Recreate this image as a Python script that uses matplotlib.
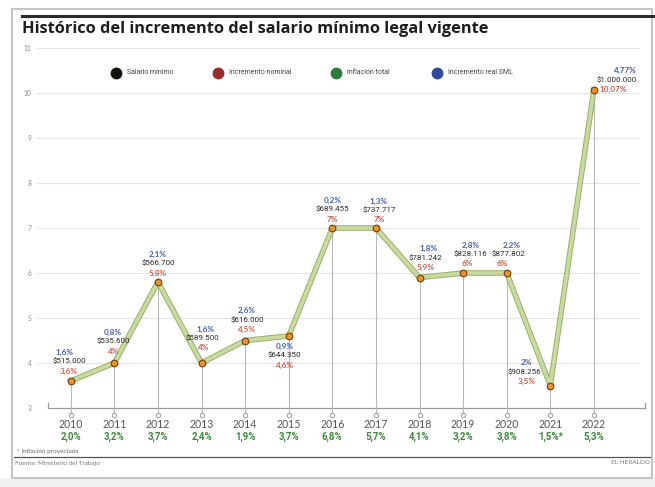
import matplotlib
matplotlib.use("Agg")
import matplotlib.pyplot as plt
from matplotlib import font_manager
from matplotlib.lines import Line2D
from matplotlib.patches import Rectangle

# ---------------- data ----------------
years = ["2010", "2011", "2012", "2013", "2014", "2015", "2016",
         "2017", "2018", "2019", "2020", "2021", "2022"]
nominal = [3.6, 4, 5.8, 4, 4.5, 4.6, 7, 7, 5.9, 6, 6, 3.5, 10.07]
nominal_labels = ["3,6%", "4%", "5,8%", "4%", "4,5%", "4,6%", "7%", "7%",
                  "5,9%", "6%", "6%", "3,5%", "10,07%"]
salary_labels = ["$515.000", "$535.600", "$566.700", "$589.500", "$616.000",
                 "$644.350", "$689.455", "$737.717", "$781.242", "$828.116",
                 "$877.802", "$908.256", "$1.000.000"]
real_labels = ["1,6%", "0,8%", "2,1%", "1,6%", "2,6%", "0,9%", "0,2%", "1,3%",
               "1,8%", "2,8%", "2,2%", "2%", "4,77%"]
inflation_labels = ["2,0%", "3,2%", "3,7%", "2,4%", "1,9%", "3,7%", "6,8%",
                    "5,7%", "4,1%", "3,2%", "3,8%", "1,5%*", "5,3%"]
yticks = [3, 4, 5, 6, 7, 8, 9, 10, 11]
legend_names = ["Salario mínimo", "Incremento nominal", "Inflación total",
                "Incremento real SML"]

# ---------------- styles ----------------
names = {f.name for f in font_manager.fontManager.ttflist}
NARROW = [n for n in ["Liberation Sans Narrow", "DejaVu Sans Condensed", "Roboto", "DejaVu Sans"] if n in names][:1] + ["DejaVu Sans"]
GEO = ["Lato", "DejaVu Sans"]
TITLE = ["Open Sans", "DejaVu Sans"]

C_BLUE_TXT = "#4a5fae"
C_RED_TXT = "#c4604f"
C_BLACK_TXT = "#2a2a2a"
C_GREEN_TXT = "#3e8b3e"
legend_colors = ["#141410", "#9a2a2a", "#2f7a40", "#2f4c9c"]

W, H = 655, 487
fig = plt.figure(figsize=(W / 100, H / 100), dpi=100)
fig.patch.set_facecolor("white")


def fx(px):
    return px / W


def fy(py):
    return 1 - py / H


# frame
fig.add_artist(Rectangle((0, 0), 1, fy(478), transform=fig.transFigure,
                         facecolor="#f1f1f1", edgecolor="none", zorder=0))
fig.add_artist(Rectangle((fx(12), fy(478)), fx(652) - fx(12), fy(9) - fy(478),
                         transform=fig.transFigure, facecolor="white",
                         edgecolor="#c4c4c4", linewidth=1.5, zorder=0))
fig.add_artist(Line2D([fx(22), 1], [fy(16), fy(16)], transform=fig.transFigure,
                      color="#2a2a2a", linewidth=2.2))
fig.add_artist(Line2D([fx(14), fx(650)], [fy(457), fy(457)], transform=fig.transFigure,
                      color="#555555", linewidth=0.9))

fig.text(fx(22), fy(29), "Histórico del incremento del salario mínimo legal vigente",
         fontsize=11.8, fontweight="bold", color="#1e1e1e", family=TITLE,
         ha="left", va="center")
fig.text(fx(17), fy(451), "* Inflación proyectada", fontsize=4.6, color="#666666",
         family=GEO, ha="left", va="center")
fig.text(fx(15), fy(464), "Fuente: Ministerio del Trabajo", fontsize=4.6, color="#777777",
         family=GEO, ha="left", va="center")
fig.text(fx(650), fy(463), "EL HERALDO", fontsize=4.6, color="#777777",
         family=GEO, ha="right", va="center")

# legend
leg_x = [116, 218, 336, 437]
for x, name, c in zip(leg_x, legend_names, legend_colors):
    fig.add_artist(Line2D([fx(x)], [fy(73)], transform=fig.transFigure, marker="o",
                          markersize=7.5, color=c, linestyle="none"))
    fig.text(fx(x + 11), fy(73), name, fontsize=5.0, color="#444444",
             family=NARROW, ha="left", va="center")

# axes: x pixel 37..645, y 3 at 408, 11 at 48
x0, dx = 70.7, 43.6
ax = fig.add_axes([fx(37), fy(408), fx(645) - fx(37), fy(48) - fy(408)])
ax.set_xlim((37 - x0) / dx, (645 - x0) / dx)
ax.set_ylim(3, 11)
ax.set_facecolor("none")
for s in ["top", "right", "left", "bottom"]:
    ax.spines[s].set_visible(False)

ax.set_yticks(yticks)
ax.set_yticklabels([str(v) for v in yticks], fontsize=4.8, color="#8a8a8a", family=GEO)
ax.tick_params(axis="y", length=0, pad=4)
ax.set_xticks([])

for v in yticks[1:]:
    ax.axhline(v, xmin=0, xmax=0.99, color="#e4e4e4", linewidth=0.8, zorder=1)

# L-shaped base axis
xl = (48 - x0) / dx
xr = (645 - x0) / dx
ax.plot([xl, xr], [3, 3], color="#9a9a9a", linewidth=0.9, zorder=2, clip_on=False)
ax.plot([xl, xl], [3, 3.12], color="#9a9a9a", linewidth=0.9, zorder=2, clip_on=False)
ax.plot([xr, xr], [3, 3.12], color="#9a9a9a", linewidth=0.9, zorder=2, clip_on=False)

xs = list(range(len(years)))
y_circ = 3 - 7 / 45.0
ax.vlines(xs, y_circ, nominal, color="#b8b8b8", linewidth=0.8, zorder=2, clip_on=False)
ax.plot(xs, [y_circ] * len(xs), linestyle="none", marker="o", markersize=3.2,
        markerfacecolor="white", markeredgecolor="#9a9a9a", markeredgewidth=0.7,
        clip_on=False, zorder=3)

ax.plot(xs, nominal, color="#9aae68", linewidth=4.0, solid_joinstyle="round", zorder=4)
ax.plot(xs, nominal, color="#c8daa0", linewidth=2.6, solid_joinstyle="round", zorder=5)
ax.plot(xs, nominal, linestyle="none", marker="o", markersize=4.8,
        markerfacecolor="#e8942c", markeredgecolor="#7a3e0c", markeredgewidth=0.8, zorder=6)

# year / inflation labels below axis
trans = ax.get_xaxis_transform()
for i in xs:
    ax.annotate(years[i], xy=(i, 0), xycoords=trans, xytext=(0, -17),
                textcoords="offset pixels", ha="center", va="center",
                fontsize=7.6, color="#555555", family=GEO, annotation_clip=False)
    ax.annotate(inflation_labels[i], xy=(i, 0), xycoords=trans, xytext=(0, -29),
                textcoords="offset pixels", ha="center", va="center",
                fontsize=7.0, color=C_GREEN_TXT, family=NARROW, fontweight="bold",
                annotation_clip=False)

# data labels: (dx blue, dx black, dx red, dy red) in pixels
offs = [(-6, -1, -2, 10), (-1, -1, -1, 12), (0, 0, 0, 9), (4, 1, 2, 15),
        (2, 2, 2, 11), (-4, -4, -4, -29), (0, 0, 0, 9), (3, 3, 3, 8),
        (9, 6, 6, 10), (8, 7, 4, 9), (5, 2, -4, 9), (-24, -26, -24, 4),
        (31, 23, 19, 0)]
step = 9.5
for i in xs:
    db, dk, dr, dy = offs[i]
    ax.annotate(nominal_labels[i], xy=(i, nominal[i]), xytext=(dr, dy),
                textcoords="offset pixels", ha="center", va="center",
                fontsize=5.9, color=C_RED_TXT, family=GEO, fontweight="bold", zorder=7)
    ax.annotate(salary_labels[i], xy=(i, nominal[i]), xytext=(dk, dy + step),
                textcoords="offset pixels", ha="center", va="center",
                fontsize=5.8, color=C_BLACK_TXT, family=NARROW, zorder=7)
    ax.annotate(real_labels[i], xy=(i, nominal[i]), xytext=(db, dy + 2 * step),
                textcoords="offset pixels", ha="center", va="center",
                fontsize=5.9, color=C_BLUE_TXT, family=GEO, fontweight="bold", zorder=7)

fig.savefig("out.png", dpi=100)
